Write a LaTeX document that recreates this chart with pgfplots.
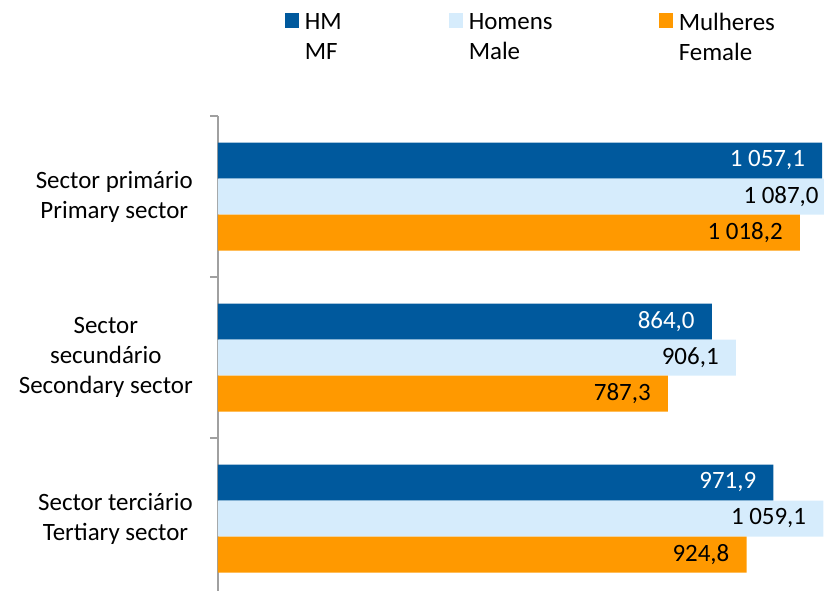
\documentclass[border=0pt]{standalone}
\usepackage{fontspec}
\setmainfont{Carlito}
\usepackage{pgfplots}
\usepackage{pgfplotstable}
\pgfplotsset{compat=1.18}

\definecolor{hmblue}{RGB}{0,89,157}
\definecolor{menblue}{RGB}{214,236,252}
\definecolor{womenorange}{RGB}{255,153,0}
\definecolor{axisgray}{RGB}{160,160,160}
\newcommand{\lbl}{\fontsize{18.7}{22.5}\selectfont}

% salario medio por sector (HM / homens / mulheres)
\pgfplotstableread{
cat hm men women
0 1057.1 1087.0 1018.2
1 864.0 906.1 787.3
2 971.9 1059.1 924.8
}\sectors

\begin{document}
\begin{tikzpicture}
\begin{axis}[
  at={(0,0)}, anchor=north west,
  scale only axis, width=465.1pt, height=362.25pt,
  xbar, bar width=27pt,
  xmin=0, xmax=1085,
  x filter/.expression={min(x,1081)},
  ymin=-0.5, ymax=2.5, y dir=reverse,
  hide x axis,
  axis y line*=left,
  y axis line style={axisgray, line width=1.1pt},
  ytick={0,1,2},
  yticklabels={{Sector primário\\Primary sector},{Sector\\secundário\\Secondary sector},{Sector terciário\\Tertiary sector}},
  yticklabel style={align=center, font=\lbl, inner sep=0pt, xshift=-18.75pt},
  major tick length=0pt,
  minor ytick={-0.5,0.5,1.5,2.5},
  minor tick length=6pt,
  tick align=outside,
  every tick/.style={axisgray, line width=1.1pt},
  point meta=rawx,
  nodes near coords={\lbl\pgfmathprintnumber[fixed,fixed zerofill,precision=1,use comma,1000 sep={\ },assume math mode=true]{\pgfplotspointmeta}},
  every node near coord/.append style={anchor=east, xshift=-12.75pt, inner sep=0pt, font=\lbl},
  legend columns=3,
  legend style={at={(axis description cs:0.10726,1.2143)}, anchor=north west,
    draw=none, fill=none, inner sep=0pt, font=\lbl, nodes={inner sep=0pt},
    /tikz/every odd column/.append style={column sep=4.5pt}},
  legend image code/.code={\fill[#1] (0pt,-3.75pt) rectangle (10.5pt,7.5pt);},
]
\addplot[fill=hmblue, draw=none, bar shift=27pt, every node near coord/.append style={text=white}] table[x=hm, y=cat] {\sectors};
\addlegendentry{\parbox[t]{108pt}{HM\\MF}}
\addplot[fill=menblue, draw=none, bar shift=0pt] table[x=men, y=cat] {\sectors};
\addlegendentry{\parbox[t]{142.5pt}{Homens\\Male}}
\addplot[fill=womenorange, draw=none, bar shift=-27pt] table[x=women, y=cat] {\sectors};
\addlegendentry{\parbox[t]{90pt}{Mulheres\\Female}}
\end{axis}
\pgfresetboundingbox
\path[use as bounding box] (-163.5pt,87pt) rectangle (454.5pt,-356.25pt);
\end{tikzpicture}
\end{document}
